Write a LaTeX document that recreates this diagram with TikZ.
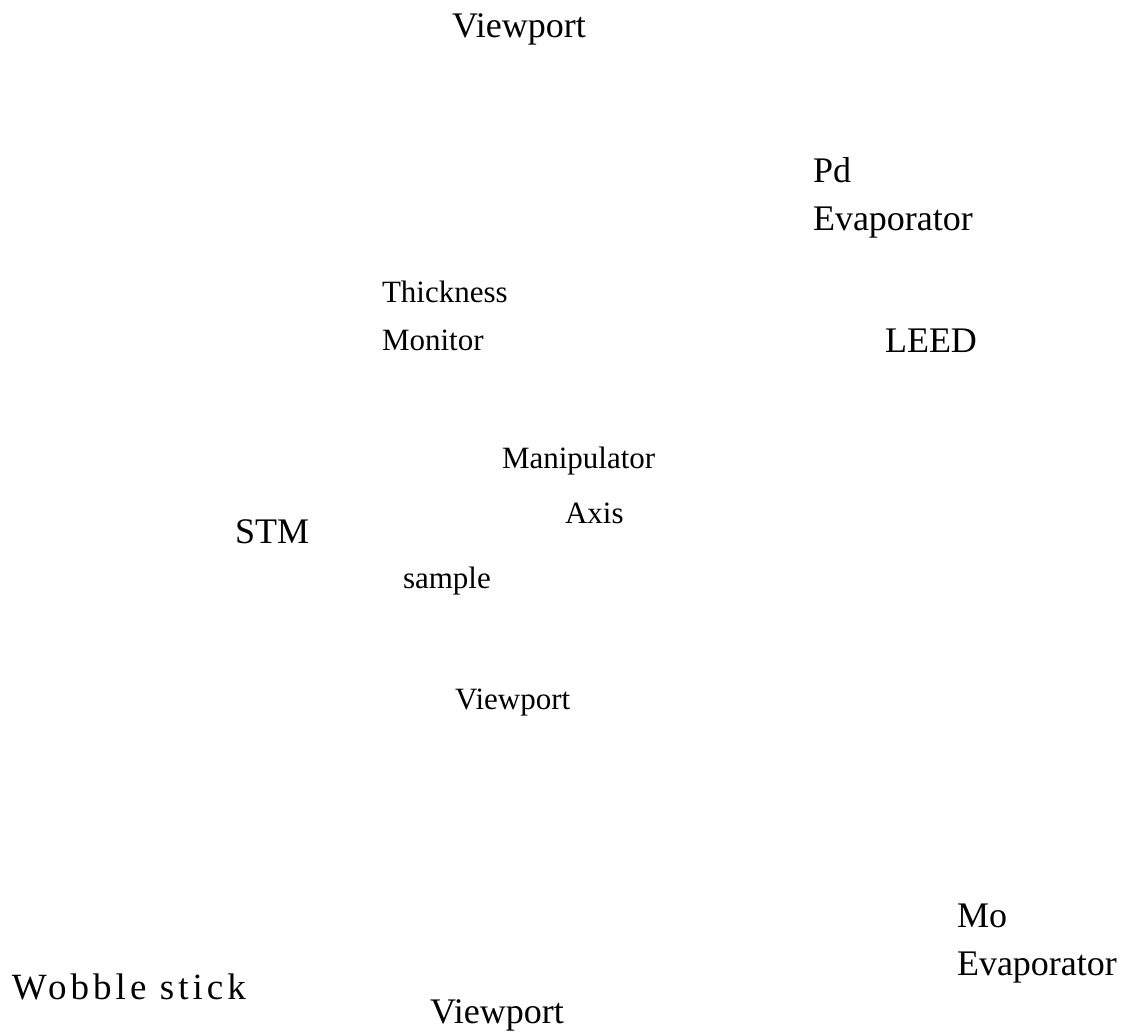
\documentclass[tikz,border=0pt]{standalone}
\usepackage{fontspec}
\setmainfont{Liberation Serif}
\tikzset{
  lbl/.style={anchor=base west, inner sep=0pt, outer sep=0pt, font=\fontsize{36}{40}\selectfont},
  sml/.style={anchor=base west, inner sep=0pt, outer sep=0pt, font=\fontsize{31}{36}\selectfont},
  wob/.style={anchor=base west, inner sep=0pt, outer sep=0pt, font=\fontsize{37}{40}\selectfont\addfontfeatures{LetterSpace=11}}
}
\begin{document}
\begin{tikzpicture}[x=1pt,y=-1pt]
\useasboundingbox (0,0) rectangle (1135,1035);
\node[lbl] (vptop) at (452,38) {Viewport};
\node[lbl] (pd1) at (813,183) {Pd};
\node[lbl] (pd2) at (813,231) {Evaporator};
\node[sml] (tm1) at (382,302) {Thickness};
\node[sml] (tm2) at (382,350) {Monitor};
\node[lbl] (leed) at (885,352) {LEED};
\node[sml] (ma1) at (502,468) {Manipulator};
\node[sml] (ma2) at (565,523) {Axis};
\node[lbl] (stm) at (235,543) {STM};
\node[sml] (sample) at (403,588) {sample};
\node[sml] (vpmid) at (455,709) {Viewport};
\node[lbl] (mo1) at (957,927) {Mo};
\node[lbl] (mo2) at (957,975) {Evaporator};
\node[wob] (wob) at (12,999) {Wobble stick};
\node[lbl] (vpbot) at (430,1023) {Viewport};
\end{tikzpicture}
\end{document}
